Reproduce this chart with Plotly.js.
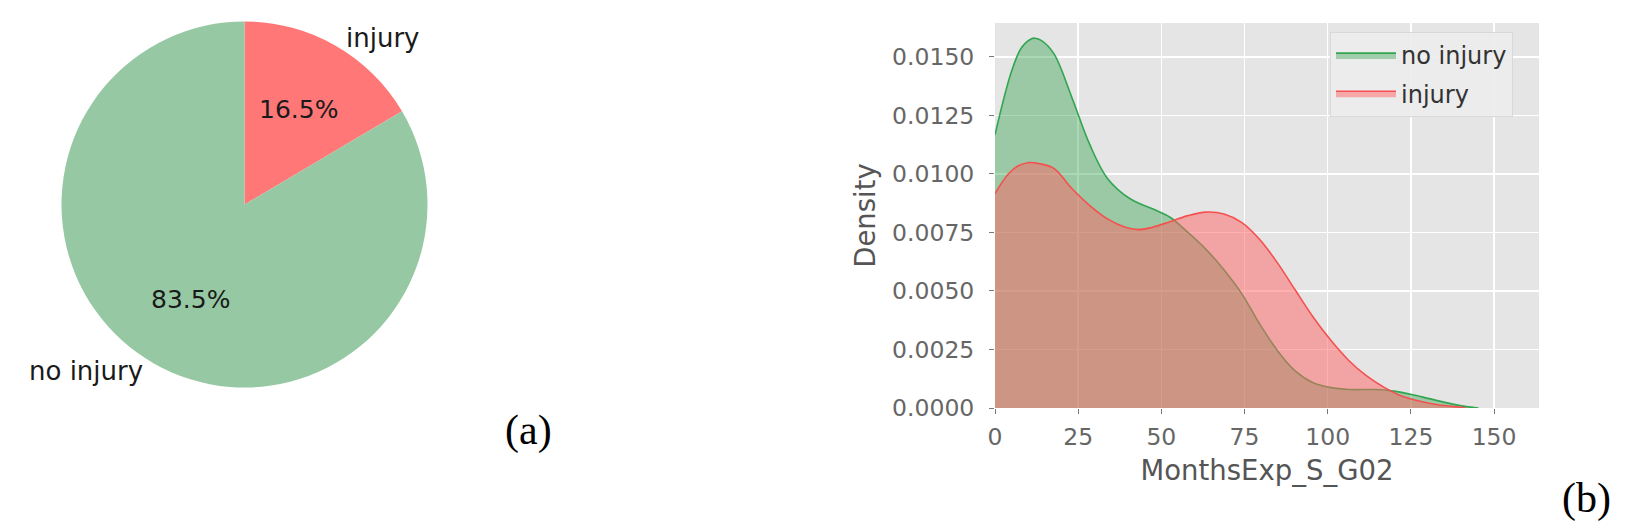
<!DOCTYPE html>
<html>
<head>
<meta charset="utf-8">
<script src="https://cdn.plot.ly/plotly-3.0.1.min.js"></script>
<style>
  html, body { margin: 0; padding: 0; background: #ffffff; }
  #chart { width: 1625px; height: 530px; }
</style>
</head>
<body>
<div id="chart"></div>
<script>
// ---- Data ----
const pieLabels = ['injury', 'no injury'];
const pieValues = [16.5, 83.5];
const pieColors = ['#FF7777', '#96C9A3'];

const kdeX_noInjury = [0, 5, 8, 11, 12, 14, 17.7, 23.1, 28.5, 33.8, 40.6, 47.3, 52.6, 58, 63.4, 68.8, 74.1, 79.5, 84.9, 90.2, 95.6, 101, 106.4, 114.4, 119.8, 125.2, 130.5, 135.9, 141.3, 145.3];
const kdeY_noInjury = [0.01168, 0.01440, 0.01540, 0.01578, 0.01580, 0.01570, 0.01514, 0.01327, 0.01125, 0.00981, 0.00894, 0.00851, 0.00815, 0.0075, 0.00678, 0.00591, 0.0049, 0.0036, 0.00245, 0.00159, 0.00108, 0.00087, 0.00079, 0.00079, 0.00072, 0.00058, 0.0004, 0.00022, 0.00007, 0];

const kdeX_injury = [0, 4, 7, 10.3, 13, 17.7, 23.1, 28.5, 33.8, 39.2, 43.2, 47.3, 52.6, 58, 63.4, 68.8, 74.1, 79.5, 84.9, 90.2, 95.6, 101, 106.4, 111.7, 117.1, 122.4, 127.8, 133.2, 139.9, 141.5];
const kdeY_injury = [0.00916, 0.01000, 0.01035, 0.01049, 0.01045, 0.01024, 0.00938, 0.00865, 0.00808, 0.00772, 0.00762, 0.00772, 0.00796, 0.00822, 0.00837, 0.00829, 0.00793, 0.00721, 0.0062, 0.00505, 0.00389, 0.00288, 0.00202, 0.00137, 0.00087, 0.0005, 0.00029, 0.00014, 0.00003, 0];

const xTicks = [0, 25, 50, 75, 100, 125, 150];
const yTicks = [0, 0.0025, 0.005, 0.0075, 0.01, 0.0125, 0.015];
const yTickText = ['0.0000', '0.0025', '0.0050', '0.0075', '0.0100', '0.0125', '0.0150'];

const W = 1625, H = 530;
const font = 'DejaVu Sans, sans-serif';

// pie geometry (pixels)
const pieCx = 244.5, pieCy = 204.5, pieR = 183;
const pieDomain = {
  x: [(pieCx - pieR) / W, (pieCx + pieR) / W],
  y: [(H - (pieCy + pieR)) / H, (H - (pieCy - pieR)) / H]
};

// pie text annotations derived from the values (matplotlib-style pctdistance / labeldistance)
const pieAnnotations = [];
(function () {
  const total = pieValues.reduce((a, b) => a + b, 0);
  let cum = 0;
  pieValues.forEach((v, i) => {
    const mid = (cum + v / 2) / total * 2 * Math.PI; // clockwise from top
    cum += v;
    const sx = Math.sin(mid), sy = -Math.cos(mid);
    const pct = (v / total * 100).toFixed(1) + '%';
    pieAnnotations.push({
      text: pct, xref: 'paper', yref: 'paper',
      x: (pieCx + 0.6 * pieR * sx) / W, y: (H - (pieCy + 0.6 * pieR * sy)) / H,
      xanchor: 'center', yanchor: 'middle', showarrow: false,
      font: { family: font, size: 25, color: '#1a1a1a' }
    });
    pieAnnotations.push({
      text: pieLabels[i], xref: 'paper', yref: 'paper',
      x: (pieCx + 1.1 * pieR * sx) / W, y: (H - (pieCy + 1.05 * pieR * sy)) / H,
      xanchor: sx >= 0 ? 'left' : 'right', yanchor: 'middle', showarrow: false,
      font: { family: font, size: 26, color: '#1a1a1a' }
    });
  });
})();

const traces = [
  {
    type: 'pie',
    labels: pieLabels,
    values: pieValues,
    sort: false,
    direction: 'clockwise',
    rotation: 0,
    domain: pieDomain,
    marker: { colors: pieColors, line: { width: 0 } },
    textinfo: 'none',
    showlegend: false,
    hoverinfo: 'label+percent'
  },
  {
    type: 'scatter',
    mode: 'lines',
    name: 'no injury',
    legendgroup: 'a',
    x: kdeX_noInjury,
    y: kdeY_noInjury,
    line: { color: 'rgb(50,165,80)', width: 1.6, shape: 'spline', smoothing: 1 },
    fill: 'tozeroy',
    fillcolor: 'rgba(44,158,70,0.40)',
    xaxis: 'x', yaxis: 'y'
  },
  {
    type: 'scatter',
    mode: 'lines',
    name: 'injury',
    legendgroup: 'b',
    x: kdeX_injury,
    y: kdeY_injury,
    line: { color: 'rgb(245,80,80)', width: 1.6, shape: 'spline', smoothing: 1 },
    fill: 'tozeroy',
    fillcolor: 'rgba(255,100,100,0.5)',
    xaxis: 'x', yaxis: 'y'
  }
];

const layout = {
  width: W,
  height: H,
  margin: { l: 0, r: 0, t: 0, b: 0 },
  paper_bgcolor: '#ffffff',
  plot_bgcolor: '#E5E5E5',
  font: { family: font, color: '#555555' },
  xaxis: {
    domain: [995 / W, 1539 / W],
    range: [0, 163.5],
    tickvals: xTicks,
    ticks: 'outside',
    ticklen: 5,
    tickcolor: '#777777',
    ticklabelstandoff: 3,
    tickfont: { family: font, size: 23.5, color: '#666666' },
    showgrid: true,
    gridcolor: '#ffffff',
    gridwidth: 1.5,
    zeroline: false,
    showline: false,
    title: { text: 'MonthsExp_S_G02', font: { family: font, size: 27.5, color: '#555555' }, standoff: 10 },
    fixedrange: true
  },
  yaxis: {
    domain: [(H - 408) / H, (H - 23) / H],
    range: [0, 0.01645],
    tickvals: yTicks,
    ticktext: yTickText,
    ticks: 'outside',
    ticklen: 5,
    tickcolor: '#777777',
    ticklabelstandoff: 10,
    tickfont: { family: font, size: 23.5, color: '#666666' },
    showgrid: true,
    gridcolor: '#ffffff',
    gridwidth: 1.5,
    zeroline: false,
    showline: false,
    title: { text: 'Density', font: { family: font, size: 27.5, color: '#555555' }, standoff: 8 },
    fixedrange: true
  },
  legend: {
    x: 1330 / W,
    y: (H - 32) / H,
    xanchor: 'left',
    yanchor: 'top',
    bgcolor: 'rgba(236,236,236,0.9)',
    bordercolor: '#d8d8d8',
    borderwidth: 1,
    font: { family: font, size: 24, color: '#333333' },
    itemwidth: 60,
    tracegroupgap: 4
  },
  annotations: pieAnnotations.concat([
    { text: '(a)', xref: 'paper', yref: 'paper', x: 528 / W, y: (H - 430) / H, xanchor: 'center', yanchor: 'middle', showarrow: false, font: { family: 'Liberation Serif, Times New Roman, serif', size: 42, color: '#000000' } },
    { text: '(b)', xref: 'paper', yref: 'paper', x: 1586 / W, y: (H - 498) / H, xanchor: 'center', yanchor: 'middle', showarrow: false, font: { family: 'Liberation Serif, Times New Roman, serif', size: 42, color: '#000000' } }
  ]),
  showlegend: true
};

Plotly.newPlot('chart', traces, layout, { displayModeBar: false, staticPlot: true });
</script>
</body>
</html>
